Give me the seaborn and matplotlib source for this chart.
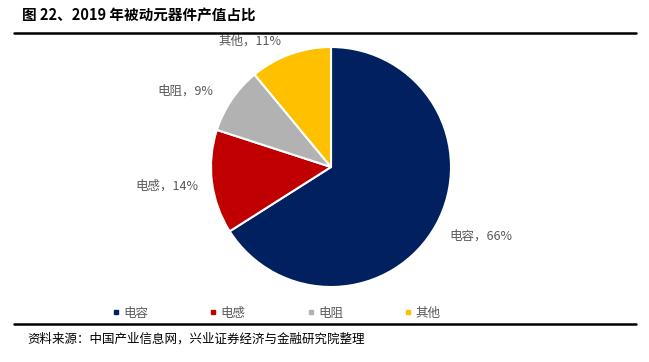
import matplotlib
matplotlib.use("Agg")
import matplotlib.pyplot as plt
from matplotlib.lines import Line2D
import seaborn as sns
import numpy as np

categories = ["电容", "电感", "电阻", "其他"]
values = [66, 14, 9, 11]
colors = ["#002060", "#C00000", "#B2B2B2", "#FFC000"]
title = "图 22、2019 年被动元器件产值占比"
source = "资料来源：中国产业信息网，兴业证券经济与金融研究院整理"

sns.set_theme(style="white")
plt.rcParams['font.family'] = ['Noto Sans CJK SC', 'DejaVu Sans']

W, H = 649, 362
fig = plt.figure(figsize=(W / 100, H / 100), dpi=100)
ax = fig.add_axes([0, 0, 1, 1])

cx, cy, r = 331, H - 167, 120
wedges, _ = ax.pie(values, colors=colors, startangle=90, counterclock=False,
                   center=(cx, cy), radius=r, frame=True,
                   wedgeprops=dict(edgecolor="white", linewidth=1.5))
ax.set_xlim(0, W)
ax.set_ylim(0, H)
ax.set_aspect("equal")
ax.axis("off")

# label placement (pixel positions of label centers, Excel best-fit style)
label_pos = [(481, 236), (167, 186), (185, 91), (250, 41)]
for cat, v, (lx, ly) in zip(categories, values, label_pos):
    ax.text(lx, H - ly, f"{cat}，{v}%", ha="center", va="center",
            fontsize=9, color="#595959")

# title
fig.text(22 / W, 1 - 15 / H, title, ha="left", va="center", fontsize=10.5,
         fontweight="bold", color="black")
fig.add_artist(Line2D([14 / W, 636 / W], [1 - 33 / H, 1 - 33 / H],
                      color="black", linewidth=1.8))

# legend
handles = [Line2D([0], [0], marker="s", linestyle="", markersize=3.5,
                  markerfacecolor=c, markeredgecolor=c) for c in colors]
leg = fig.legend(handles, categories, loc="center", ncol=4,
                 bbox_to_anchor=(0.425, 1 - 313 / H), frameon=False,
                 fontsize=9, handletextpad=0.2, columnspacing=4.8,
                 handlelength=0.8)
for t in leg.get_texts():
    t.set_color("#595959")

fig.add_artist(Line2D([14 / W, 636 / W], [1 - 324 / H, 1 - 324 / H],
                      color="black", linewidth=1.8))
fig.text(27 / W, 1 - 339 / H, source, ha="left", va="center", fontsize=9,
         color="black")

fig.savefig("out.png", dpi=100)
